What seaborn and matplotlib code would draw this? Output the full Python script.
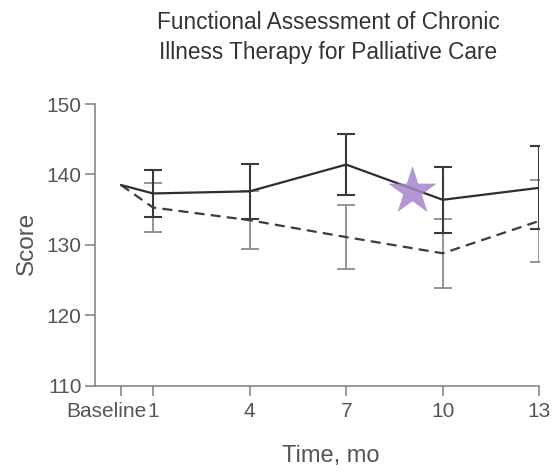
import numpy as np
import pandas as pd
import matplotlib
matplotlib.use('Agg')
import matplotlib.pyplot as plt
import matplotlib.transforms as mtransforms
import seaborn as sns

months = [0, 1, 4, 7, 10, 13]
tick_labels = ['Baseline', '1', '4', '7', '10', '13']
solid_mean = [138.5, 137.3, 137.6, 141.4, 136.4, 138.1]
solid_err = [0, 3.3, 3.9, 4.3, 4.65, 5.9]
dashed_mean = [138.5, 135.3, 133.5, 131.1, 128.8, 133.4]
dashed_err = [0, 3.5, 4.1, 4.5, 4.9, 5.8]
star_month = 9.05
star_score = 137.6


def main():
    sns.set_style('ticks')
    plt.rcParams['font.family'] = ['Liberation Sans', 'DejaVu Sans']

    fig = plt.figure(figsize=(5.52, 4.73), dpi=100)
    ax = fig.add_axes([0.173, 0.1846, 0.804, 0.5955])

    df = pd.DataFrame({
        'month': months * 2,
        'score': solid_mean + dashed_mean,
        'group': ['solid'] * len(months) + ['dashed'] * len(months),
    })

    # error bars first, lines on top
    ax.errorbar(months[1:], dashed_mean[1:], yerr=dashed_err[1:], fmt='none',
                ecolor='#8c8c8c', elinewidth=1.3, capsize=6.5, capthick=1.3, zorder=2)
    ax.errorbar(months[1:], solid_mean[1:], yerr=solid_err[1:], fmt='none',
                ecolor='#3a3a3a', elinewidth=1.5, capsize=6.5, capthick=1.5, zorder=3)

    sns.lineplot(data=df, x='month', y='score', hue='group', style='group',
                 palette={'solid': '#2e2e2e', 'dashed': '#3c3c3c'},
                 dashes={'solid': '', 'dashed': (4.5, 2.8)},
                 linewidth=1.6, legend=False, ax=ax, zorder=4)

    ax.scatter([star_month], [star_score], marker='*', s=1350, color='#a585cc',
               alpha=0.85, linewidths=0, zorder=5)

    ax.set_xlim(-0.79, 13)
    ax.set_ylim(110, 150)
    ax.set_xticks(months)
    ax.set_xticklabels(tick_labels)
    ax.set_yticks([110, 120, 130, 140, 150])

    for side in ['top', 'right']:
        ax.spines[side].set_visible(False)
    for side in ['left', 'bottom']:
        ax.spines[side].set_color('#888888')
        ax.spines[side].set_linewidth(1.2)

    ax.tick_params(axis='both', colors='#888888', labelcolor='#555555',
                   labelsize=15, width=1.2)
    ax.tick_params(axis='y', length=7, pad=3)
    ax.tick_params(axis='x', length=7, pad=5)

    # shift "Baseline" left so it clears the "1"
    base_label = ax.get_xticklabels()[0]
    base_label.set_transform(base_label.get_transform() +
                             mtransforms.ScaledTranslation(-0.15, 0, fig.dpi_scale_trans))

    ax.set_xlabel('Time, mo', fontsize=17, color='#555555')
    ax.set_ylabel('Score', fontsize=17.5, color='#555555')
    ax.xaxis.set_label_coords(0.531, -0.21)
    ax.yaxis.set_label_coords(-0.13, 0.506)

    fig.text(328 / 552, 1 - 11 / 473,
             'Functional Assessment of Chronic\nIllness Therapy for Palliative Care',
             ha='center', va='top', fontsize=16.3, color='#333333', linespacing=1.4)

    fig.savefig('out.png', dpi=100)


if __name__ == '__main__':
    main()
